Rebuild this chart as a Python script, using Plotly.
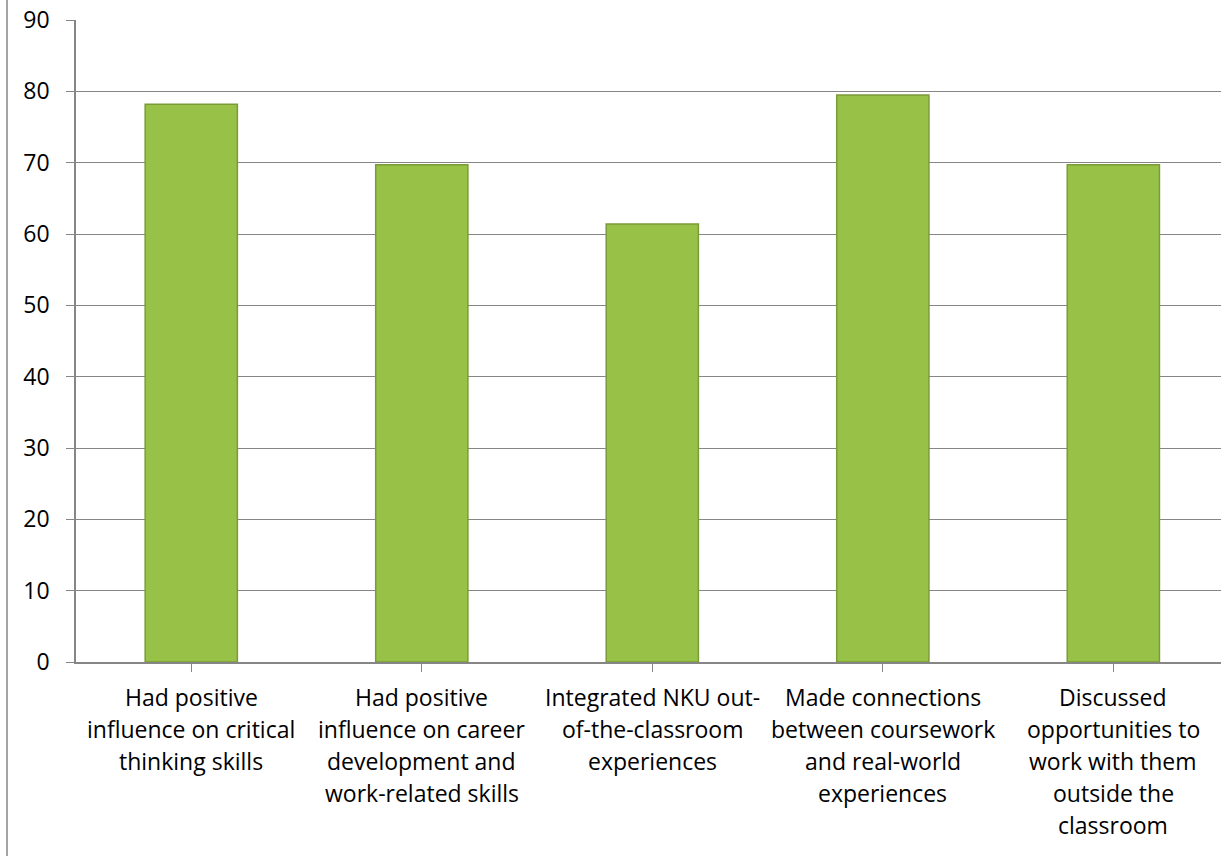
import plotly.graph_objects as go

categories = [
    "Had positive<br>influence on critical<br>thinking skills",
    "Had positive<br>influence on career<br>development and<br>work-related skills",
    "Integrated NKU out-<br>of-the-classroom<br>experiences",
    "Made connections<br>between coursework<br>and real-world<br>experiences",
    "Discussed<br>opportunities to<br>work with them<br>outside the<br>classroom",
]
values = [78.2, 69.7, 61.4, 79.5, 69.7]
y_ticks = [0, 10, 20, 30, 40, 50, 60, 70, 80, 90]

FONT = "Open Sans"
GRID = "#868686"

fig = go.Figure()
fig.add_trace(go.Bar(
    x=list(range(len(categories))),
    y=values,
    width=0.4,
    marker=dict(color="#98c147", line=dict(color="#7b9b39", width=1.5)),
))

annotations = []
for i, cat in enumerate(categories):
    for j, line in enumerate(cat.split("<br>")):
        annotations.append(dict(
            x=i, y=0, xref="x", yref="paper", text=line, showarrow=False,
            xanchor="center", yanchor="middle", yshift=-(35 + 32 * j),
            font=dict(family=FONT, size=23, color="#000000"),
        ))

fig.update_layout(
    width=1221, height=856,
    margin=dict(l=76, r=0, t=20, b=194),
    paper_bgcolor="white", plot_bgcolor="white",
    showlegend=False,
    annotations=annotations,
    shapes=[dict(type="line", xref="paper", yref="paper",
                 x0=-69 / 1145, x1=-69 / 1145, y0=-0.31, y1=1.04,
                 line=dict(color=GRID, width=1.5))],
    font=dict(family=FONT, size=23, color="#000000"),
)
fig.update_xaxes(
    range=[-0.5, 4.467], tickmode="array", tickvals=list(range(len(categories))),
    showticklabels=False, tickson="boundaries", ticks="outside", ticklen=8,
    tickcolor=GRID, showline=True, linecolor=GRID, linewidth=1.5,
    showgrid=False, zeroline=False, fixedrange=True,
)
fig.update_yaxes(
    range=[0, 90], tickmode="array", tickvals=y_ticks,
    ticks="outside", ticklen=8, tickcolor=GRID, ticklabelstandoff=12,
    showline=True, linecolor=GRID, linewidth=1.5,
    showgrid=True, gridcolor=GRID, gridwidth=1.2, zeroline=False,
    tickfont=dict(family=FONT, size=23, color="#000000"),
)
fig.write_html("out.html")
